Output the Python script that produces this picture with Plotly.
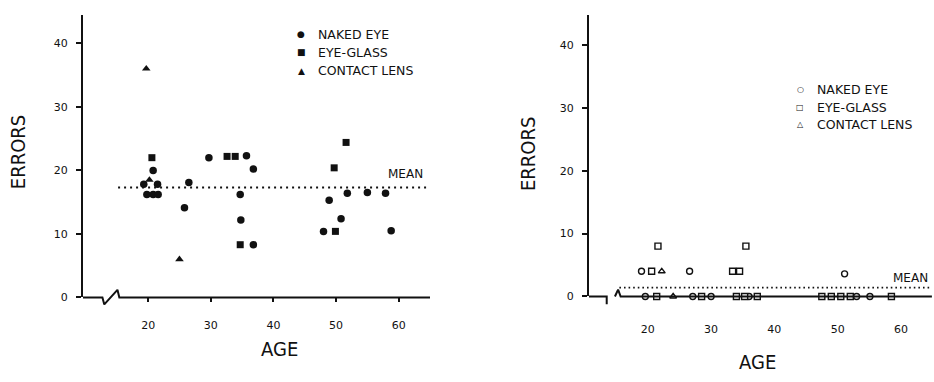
import plotly.graph_objects as go

# ---------------- data ----------------
# Left panel: errors by age, filled symbols
left_naked_age = [20.8, 19.8, 20.8, 21.6, 19.3, 21.5, 26.5, 25.8, 29.7, 35.7, 36.8,
                  34.7, 34.8, 36.8, 48.9, 51.8, 55.0, 57.9, 50.8, 48.0, 58.8]
left_naked_err = [20.0, 16.2, 16.2, 16.2, 17.8, 17.8, 18.1, 14.1, 22.0, 22.3, 20.2,
                  16.2, 12.2, 8.3, 15.3, 16.4, 16.5, 16.4, 12.4, 10.4, 10.5]
left_glass_age = [20.6, 32.6, 33.9, 34.7, 51.6, 49.7, 49.9]
left_glass_err = [22.0, 22.2, 22.2, 8.3, 24.4, 20.4, 10.4]
left_contact_age = [19.7, 20.2, 25.0]
left_contact_err = [36.0, 18.5, 6.0]
left_mean = 17.3

# Right panel: errors by age, open symbols
right_naked_age = [19.0, 26.6, 51.1, 19.6, 27.1, 30.0, 36.0, 53.0, 55.1]
right_naked_err = [4.0, 4.0, 3.6, 0, 0, 0, 0, 0, 0]
right_glass_age = [21.6, 35.5, 20.6, 33.4, 34.5, 21.4, 28.5, 34.0, 35.3, 37.3,
                   47.5, 49.0, 50.5, 52.0, 58.5]
right_glass_err = [8.0, 8.0, 4.0, 4.0, 4.0, 0, 0, 0, 0, 0, 0, 0, 0, 0, 0]
right_contact_age = [22.2, 24.0]
right_contact_err = [4.0, 0]
right_mean = 1.4

age_ticks = [20, 30, 40, 50, 60]
err_ticks = [0, 10, 20, 30, 40]
legend_labels = ["NAKED EYE", "EYE-GLASS", "CONTACT LENS"]

# ---------------- layout geometry ----------------
W, H = 934, 382
L_XDOM, L_XRNG = [83 / W, 430 / W], [9.6, 65.0]
L_YDOM, L_YRNG = [(H - 303) / H, (H - 15) / H], [0, 44.5]
R_XDOM, R_XRNG = [589 / W, 930 / W], [10.7, 64.6]
R_YDOM, R_YRNG = [(H - 302) / H, (H - 15) / H], [0, 44.8]

# broken x-axis outlines (age, errors)
left_axis_path = [[(9.6, 0), (12.7, 0), (13.0, -1.1), (15.1, 1.2), (15.4, 0), (65.0, 0)]]
right_axis_path = [[(10.7, 0), (13.5, 0), (13.5, -1.25)],
                   [(14.8, 0), (15.3, 1.1), (15.7, 0), (64.9, 0)]]

INK = "#111111"
FONT = "DejaVu Sans"
COND = "DejaVu Sans Condensed, DejaVu Sans"


def to_paper(v, dom, rng):
    return dom[0] + (v - rng[0]) / (rng[1] - rng[0]) * (dom[1] - dom[0])


fig = go.Figure()

# left panel markers
fig.add_trace(go.Scatter(x=left_naked_age, y=left_naked_err, mode="markers",
                         marker=dict(symbol="circle", size=7.5, color=INK),
                         xaxis="x", yaxis="y", cliponaxis=False, showlegend=False))
fig.add_trace(go.Scatter(x=left_glass_age, y=left_glass_err, mode="markers",
                         marker=dict(symbol="square", size=7, color=INK),
                         xaxis="x", yaxis="y", cliponaxis=False, showlegend=False))
fig.add_trace(go.Scatter(x=left_contact_age, y=left_contact_err, mode="markers",
                         marker=dict(symbol="triangle-up", size=7.5, color=INK),
                         xaxis="x", yaxis="y", cliponaxis=False, showlegend=False))
fig.add_trace(go.Scatter(x=[15.2, 64.6], y=[left_mean, left_mean], mode="lines",
                         line=dict(color=INK, width=2, dash="2px,4px"),
                         xaxis="x", yaxis="y", showlegend=False))

# right panel markers
open_marker = dict(size=6, color="white", line=dict(color=INK, width=1.4))
fig.add_trace(go.Scatter(x=[15.5, 64.6], y=[right_mean, right_mean], mode="lines",
                         line=dict(color=INK, width=1.6, dash="1.6px,3px"),
                         xaxis="x2", yaxis="y2", showlegend=False))
fig.add_trace(go.Scatter(x=right_naked_age, y=right_naked_err, mode="markers",
                         marker=dict(symbol="circle", **open_marker),
                         xaxis="x2", yaxis="y2", cliponaxis=False, showlegend=False))
fig.add_trace(go.Scatter(x=right_glass_age, y=right_glass_err, mode="markers",
                         marker=dict(symbol="square", **open_marker),
                         xaxis="x2", yaxis="y2", cliponaxis=False, showlegend=False))
fig.add_trace(go.Scatter(x=right_contact_age, y=right_contact_err, mode="markers",
                         marker=dict(symbol="triangle-up", **open_marker),
                         xaxis="x2", yaxis="y2", cliponaxis=False, showlegend=False))

# broken x-axis lines, drawn on a full-page overlay axis pair
for segs, xd, xr, yd, yr in [(left_axis_path, L_XDOM, L_XRNG, L_YDOM, L_YRNG),
                             (right_axis_path, R_XDOM, R_XRNG, R_YDOM, R_YRNG)]:
    for seg in segs:
        fig.add_trace(go.Scatter(
            x=[to_paper(a, xd, xr) for a, _ in seg],
            y=[to_paper(e, yd, yr) for _, e in seg],
            mode="lines", line=dict(color=INK, width=2),
            xaxis="x3", yaxis="y3", hoverinfo="skip", showlegend=False))

tickfont = dict(family=FONT, size=11, color=INK)
common_y = dict(tickvals=err_ticks, ticks="outside", ticklen=5, tickwidth=2,
                tickcolor=INK, showline=True, linecolor=INK, linewidth=2,
                showgrid=False, zeroline=False, tickfont=tickfont,
                ticklabelstandoff=6)


def px(x):
    return x / W


def py(y):
    return 1 - y / H


ann = []


def text(x, y, s, size, family=FONT, xanchor="center", angle=0):
    ann.append(dict(x=px(x), y=py(y), xref="paper", yref="paper", text=s,
                    showarrow=False, xanchor=xanchor, yanchor="middle",
                    textangle=angle, font=dict(family=family, size=size, color=INK)))


# axis titles
text(18, 155, "ERRORS", 20, COND, angle=-90)
text(279, 356, "AGE", 20, COND)
text(528, 157, "ERRORS", 20, COND, angle=-90)
text(757, 369, "AGE", 20, COND)

# legends
for sym, lab, yy in zip(["●", "■", "▲"], legend_labels, [35, 53, 72]):
    text(301, yy, sym, 9)
    text(316, yy, lab, 12.5, xanchor="left")
for sym, lab, yy in zip(["○", "□", "△"], legend_labels, [91, 109, 127]):
    text(800, yy, sym, 8)
    text(815, yy, lab, 12.5, xanchor="left")

# mean labels
text(405, 177, "MEAN", 12)
text(910, 283, "MEAN", 12)

hidden = dict(visible=False, showgrid=False, zeroline=False, fixedrange=True)

fig.update_layout(
    width=W, height=H,
    margin=dict(l=0, r=0, t=0, b=0),
    paper_bgcolor="white", plot_bgcolor="rgba(0,0,0,0)",
    xaxis=dict(domain=L_XDOM, range=L_XRNG, anchor="y", tickvals=age_ticks,
               ticks="outside", ticklen=4, tickwidth=2, tickcolor=INK,
               showline=False, showgrid=False, zeroline=False,
               tickfont=tickfont, ticklabelstandoff=13),
    yaxis=dict(domain=L_YDOM, range=L_YRNG, anchor="x", **common_y),
    xaxis2=dict(domain=R_XDOM, range=R_XRNG, anchor="y2", tickvals=age_ticks,
                ticks="", showline=False, showgrid=False, zeroline=False,
                tickfont=tickfont, ticklabelstandoff=25),
    yaxis2=dict(domain=R_YDOM, range=R_YRNG, anchor="x2", **common_y),
    xaxis3=dict(domain=[0, 1], range=[0, 1], anchor="y3", **hidden),
    yaxis3=dict(domain=[0, 1], range=[0, 1], anchor="x3", **hidden),
    annotations=ann,
)

fig.write_html("out.html")
